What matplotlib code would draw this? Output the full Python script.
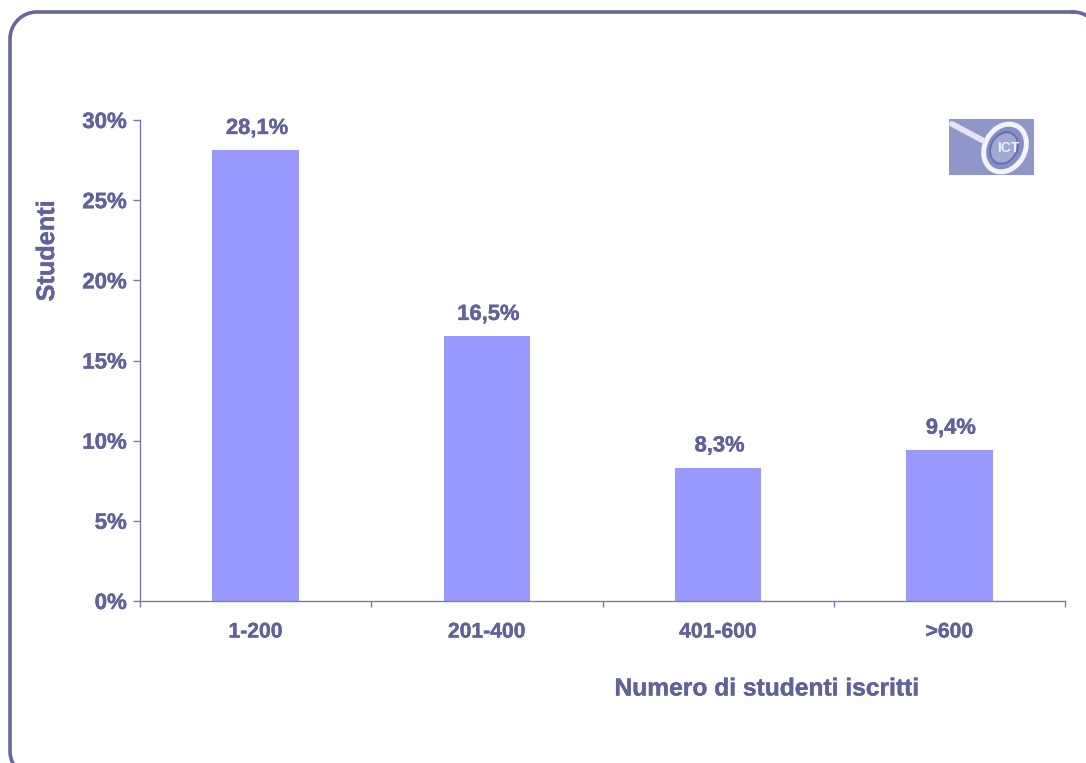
import numpy as np
import matplotlib
matplotlib.use("Agg")
import matplotlib.pyplot as plt
import matplotlib.patheffects as pe
from matplotlib.patches import Ellipse, Rectangle

categories = ["1-200", "201-400", "401-600", ">600"]
values = [28.1, 16.5, 8.3, 9.4]
value_labels = ["28,1%", "16,5%", "8,3%", "9,4%"]
yticks = [0, 5, 10, 15, 20, 25, 30]
ytick_labels = ["0%", "5%", "10%", "15%", "20%", "25%", "30%"]

W, H = 1086, 763
TXT = "#62629a"
AX = "#7a7ab0"
plt.rcParams["font.family"] = ["Liberation Sans", "DejaVu Sans"]
plt.rcParams["font.weight"] = "bold"
fig = plt.figure(figsize=(W / 100, H / 100), dpi=100, facecolor="white")
heavy = [pe.withStroke(linewidth=0.3, foreground=TXT)]

bg = fig.add_axes([0, 0, 1, 1])
bg.set_xlim(0, W); bg.set_ylim(H, 0); bg.axis("off")


def rounded_frame(x0, y0, x1, y1, r):
    corners = [(x1 - r, y0 + r, -90, 0), (x1 - r, y1 - r, 0, 90),
               (x0 + r, y1 - r, 90, 180), (x0 + r, y0 + r, 180, 270)]
    xs, ys = [], []
    for cx, cy, a0, a1 in corners:
        t = np.radians(np.linspace(a0, a1, 30))
        xs.extend(cx + r * np.cos(t)); ys.extend(cy + r * np.sin(t))
    return xs + xs[:1], ys + ys[:1]


fx, fy = rounded_frame(10, 12, 1100, 778, 27)
bg.plot(fx, fy, color="#67679f", lw=2.6)

L, R, T, B = 140, 1065, 120, 601
ax = fig.add_axes([L / W, 1 - B / H, (R - L) / W, (B - T) / H])
ax.patch.set_alpha(0)
ax.bar(range(4), values, width=0.375, color="#9999ff", zorder=2)
ax.set_xlim(-0.5, 3.5); ax.set_ylim(0, 30)
for s in ("top", "right"):
    ax.spines[s].set_visible(False)
for s in ("left", "bottom"):
    ax.spines[s].set_color(AX); ax.spines[s].set_linewidth(1)
ax.spines["bottom"].set_zorder(3)
ax.set_yticks(yticks, ytick_labels)
ax.set_xticks([-0.5, 0.5, 1.5, 2.5, 3.5], [])
ax.tick_params(axis="y", length=5, width=1, color=AX, labelcolor=TXT, labelsize=16, pad=4.5)
ax.tick_params(axis="x", direction="out", length=4.5, width=1, color=AX)
for t in ax.get_yticklabels():
    t.set_path_effects(heavy)
for i, c in enumerate(categories):
    ax.annotate(c, (i, 0), xytext=(0, -31), xycoords="data", textcoords="offset pixels",
                ha="center", va="center", color=TXT, fontsize=15.2, path_effects=heavy)
for i, (v, s) in enumerate(zip(values, value_labels)):
    ax.annotate(s, (i, v), xytext=(1.5, 22), xycoords="data", textcoords="offset pixels",
                ha="center", va="center", color=TXT, fontsize=15.8, path_effects=heavy)
fig.text(47 / W, 1 - 251 / H, "Studenti", rotation=90, ha="center", va="center",
         color=TXT, fontsize=18.2, path_effects=heavy)
fig.text(767 / W, 1 - 688.5 / H, "Numero di studenti iscritti", ha="center", va="center",
         color=TXT, fontsize=17.7, path_effects=heavy)

# ICT logo
lg = fig.add_axes([949 / W, 1 - 175 / H, 85 / W, 56 / H])
lg.set_xlim(949, 1034); lg.set_ylim(175, 119); lg.axis("off")
lg.add_patch(Rectangle((949, 119), 85, 56, fc="#8f97c8", ec="none"))
lg.plot([952, 982], [124, 140], color="#e4e6f5", lw=4.2, solid_capstyle="round")
lg.add_patch(Ellipse((1005, 148), 40, 50, angle=30, fc="#858ec2", ec="#f2f3fb", lw=3.6))
lg.add_patch(Ellipse((1004, 148), 26, 33, angle=30, fc="#a0a8d4", ec="#6570aa", lw=1.4))
lg.text(1008, 148, "ICT", color="#eef0fa", fontsize=10, ha="center", va="center")

fig.savefig("out.png", dpi=100)
